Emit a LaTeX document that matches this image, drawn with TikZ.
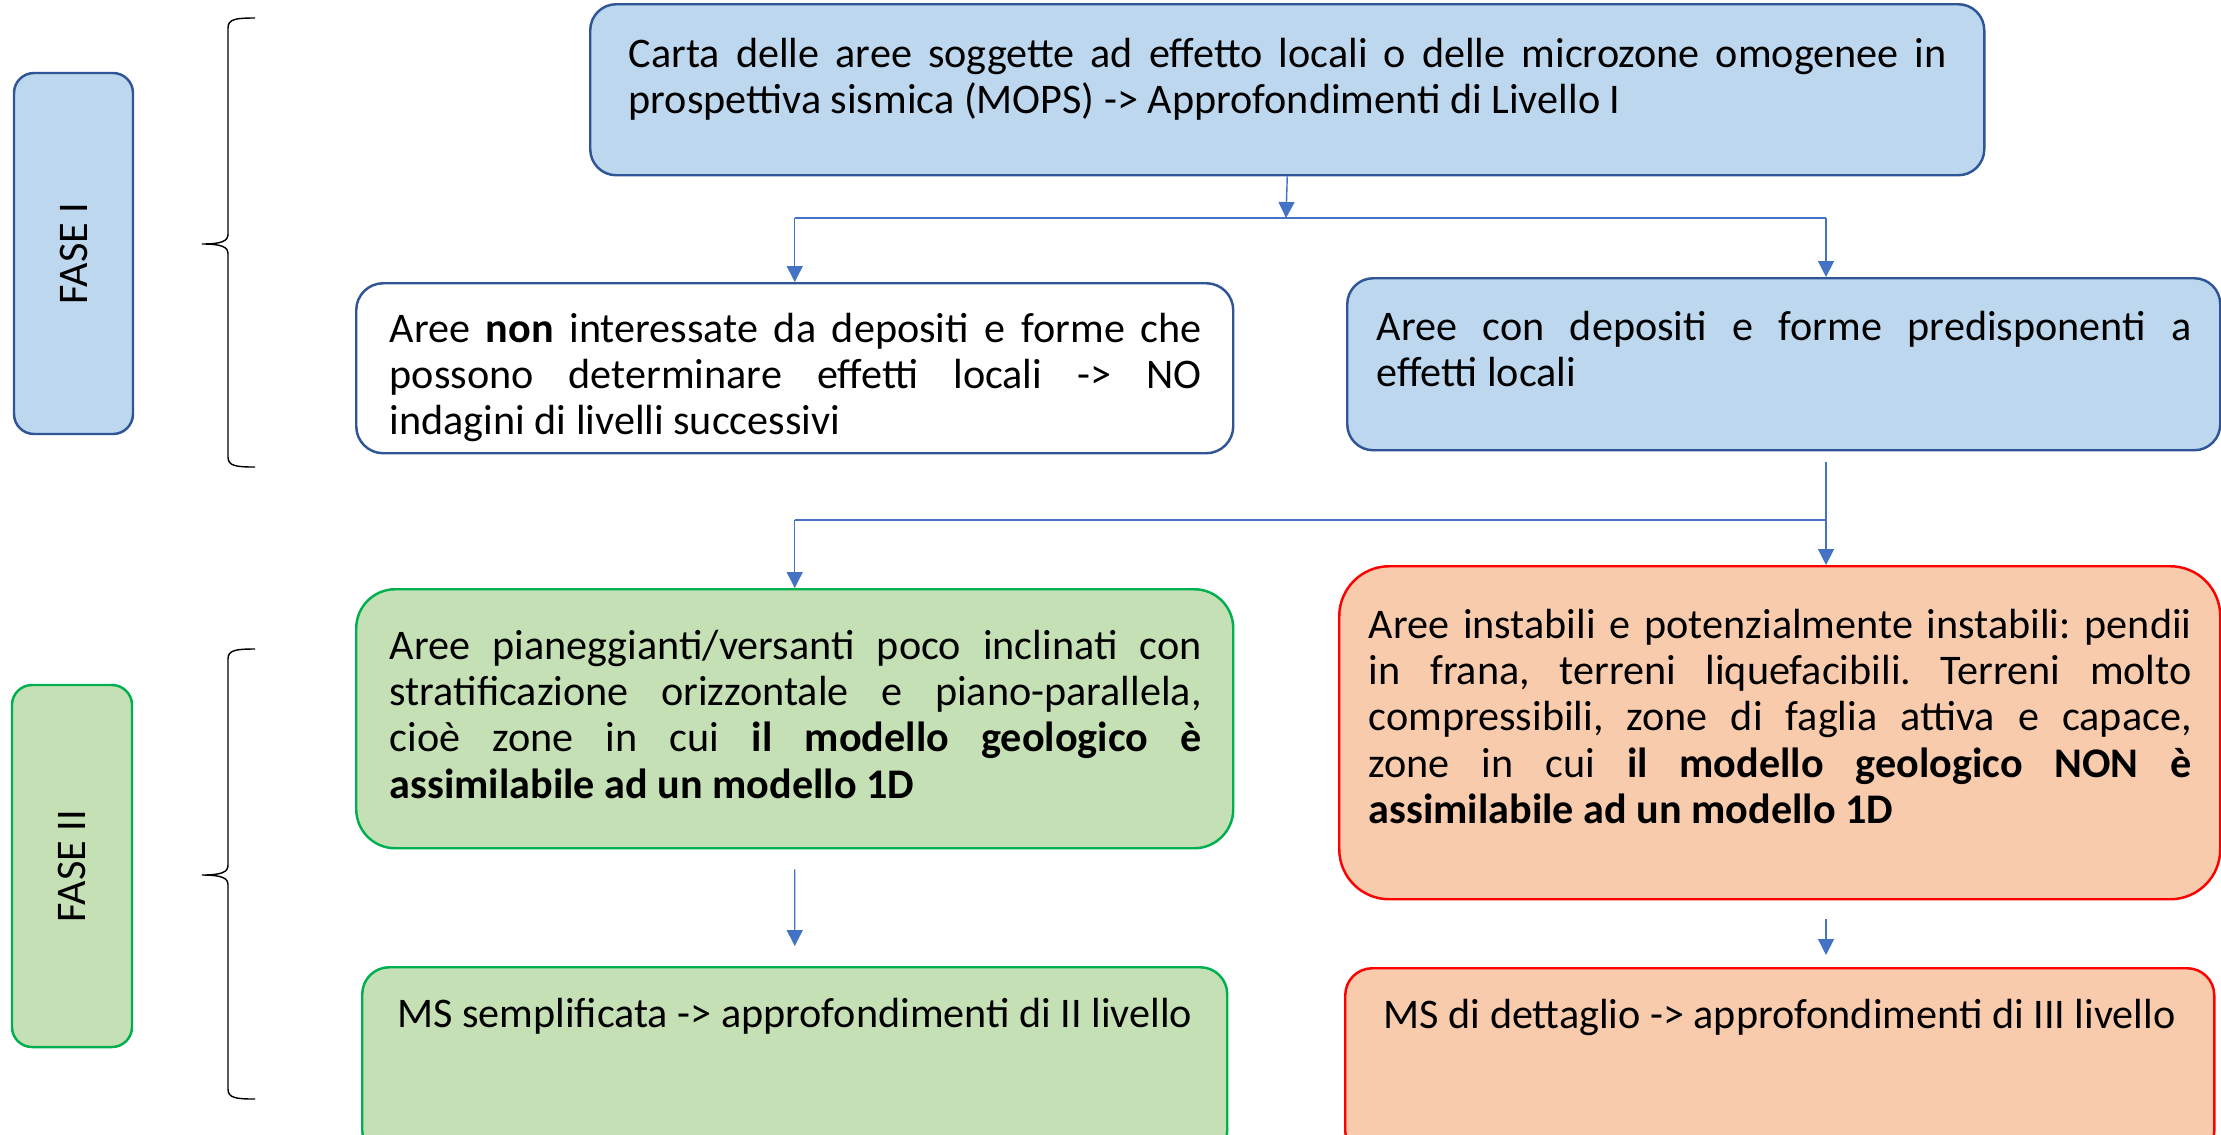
\documentclass[tikz,border=0pt]{standalone}
\usepackage{fontspec}
\setmainfont{Carlito}
\usepackage{tikz}
\usetikzlibrary{positioning,arrows.meta}

\definecolor{boxblue}{HTML}{BDD7EE}
\definecolor{edgeblue}{HTML}{2F5597}
\definecolor{linkblue}{HTML}{4472C4}
\definecolor{boxgreen}{HTML}{C5E0B4}
\definecolor{edgegreen}{HTML}{00B050}
\definecolor{boxred}{HTML}{F8CBAD}
\definecolor{edgered}{HTML}{FF0000}

\hyphenpenalty=10000
\exhyphenpenalty=10000
\frenchspacing

\tikzset{
	box/.style={draw, line width=0.7pt, anchor=north west, inner sep=0pt},
	bluebox/.style={box, draw=edgeblue, fill=boxblue},
	whitebox/.style={box, draw=edgeblue, fill=white},
	greenbox/.style={box, draw=edgegreen, fill=boxgreen},
	redbox/.style={box, draw=edgered, fill=boxred},
	txt/.style={inner sep=0pt, anchor=base west, align=justify, font=\fontsize{12}{13.2}\selectfont},
	fase/.style={anchor=center, rotate=90, font=\fontsize{12}{14}\selectfont, rounded corners=0.2cm},
	link/.style={draw=linkblue, line width=0.4pt},
	flow/.style={link, -{Triangle[length=0.16cm, width=0.16cm]}},
	curly/.style={line width=0.4pt},
}

\begin{document}
\begin{tikzpicture}

	\useasboundingbox (0,0) rectangle (22.21,-11.34);

	% Phases
	\node[bluebox, fase, minimum width=3.61cm, minimum height=1.19cm] (fase1) at (0.735,-2.535) {FASE I};
	\node[greenbox, fase, minimum width=3.62cm, minimum height=1.20cm] (fase2) at (0.72,-8.66) {FASE II};

	% Braces
	\draw[curly] (2.55,-0.18) .. controls (2.36,-0.18) and (2.28,-0.19) .. (2.28,-0.28)
		-- (2.28,-2.34) .. controls (2.28,-2.41) and (2.22,-2.44) .. (2.02,-2.44)
		.. controls (2.22,-2.44) and (2.28,-2.47) .. (2.28,-2.54)
		-- (2.28,-4.57) .. controls (2.28,-4.66) and (2.36,-4.67) .. (2.55,-4.67);
	\draw[curly] (2.55,-6.49) .. controls (2.36,-6.49) and (2.28,-6.50) .. (2.28,-6.59)
		-- (2.28,-8.65) .. controls (2.28,-8.72) and (2.22,-8.75) .. (2.02,-8.75)
		.. controls (2.22,-8.75) and (2.28,-8.78) .. (2.28,-8.85)
		-- (2.28,-10.89) .. controls (2.28,-10.98) and (2.36,-10.99) .. (2.55,-10.99);

	% Level I
	\node[bluebox, minimum width=13.94cm, minimum height=1.71cm, rounded corners=0.26cm] (carta) at (5.89,-0.03) {};
	\node[txt, text width=13.18cm] (cartaT) at ([xshift=0.39cm, yshift=-0.64cm]carta.north west)
		{Carta delle aree soggette ad effetto locali o delle microzone omogenee in\linebreak prospettiva sismica (MOPS) -> Approfondimenti di Livello I};

	\node[whitebox, minimum width=8.77cm, minimum height=1.70cm, rounded corners=0.27cm] (nonint) at (3.55,-2.82) {};
	\node[txt, text width=8.12cm] (nonintT) at ([xshift=0.34cm, yshift=-0.60cm]nonint.north west)
		{Aree \textbf{non} interessate da depositi e forme che\linebreak possono determinare effetti locali -> NO\linebreak indagini di livelli successivi};

	\node[bluebox, minimum width=8.73cm, minimum height=1.72cm, rounded corners=0.26cm] (predisp) at (13.46,-2.77) {};
	\node[txt, text width=8.15cm] (predispT) at ([xshift=0.30cm, yshift=-0.63cm]predisp.north west)
		{Aree con depositi e forme predisponenti a\linebreak effetti locali};

	% Level II
	\node[greenbox, minimum width=8.77cm, minimum height=2.59cm, rounded corners=0.39cm] (piano) at (3.55,-5.88) {};
	\node[txt, text width=8.12cm] (pianoT) at ([xshift=0.34cm, yshift=-0.71cm]piano.north west)
		{Aree pianeggianti/versanti poco inclinati con\linebreak stratificazione orizzontale e piano-parallela,\linebreak cioè zone in cui \textbf{il modello geologico è\linebreak assimilabile ad un modello 1D}};

	\node[redbox, minimum width=8.81cm, minimum height=3.33cm, rounded corners=0.5cm] (instab) at (13.38,-5.65) {};
	\node[txt, text width=8.23cm] (instabT) at ([xshift=0.30cm, yshift=-0.73cm]instab.north west)
		{Aree instabili e potenzialmente instabili: pendii\linebreak in frana, terreni liquefacibili. Terreni molto\linebreak compressibili, zone di faglia attiva e capace,\linebreak zone in cui \textbf{il modello geologico NON è\linebreak assimilabile ad un modello 1D}};

	\node[greenbox, minimum width=8.65cm, minimum height=1.90cm, rounded corners=0.27cm] (semp) at (3.61,-9.66) {};
	\node[txt, anchor=base] (sempT) at ([yshift=-0.61cm]semp.north)
		{MS semplificata -> approfondimenti di II livello};

	\node[redbox, minimum width=8.69cm, minimum height=1.90cm, rounded corners=0.27cm] (dett) at (13.44,-9.67) {};
	\node[txt, anchor=base] (dettT) at ([yshift=-0.61cm]dett.north)
		{MS di dettaglio -> approfondimenti di III livello};

	% Connectors
	\coordinate (split1) at (12.86,-2.18);
	\coordinate (split1L) at (nonint.north |- split1);
	\coordinate (split1R) at (18.26,-2.18);
	\draw[flow] (carta.south) -- (split1);
	\draw[link] (split1L) -- (split1R);
	\draw[flow] (split1L) -- (nonint.north);
	\draw[flow] (split1R) -- (split1R |- predisp.north);

	\coordinate (split2T) at (18.26,-4.62);
	\coordinate (split2R) at (18.26,-5.20);
	\coordinate (split2L) at (piano.north |- split2R);
	\draw[link] (split2T) -- (split2R);
	\draw[link] (split2L) -- (split2R);
	\draw[flow] (split2L) -- (piano.north);
	\draw[flow] (split2R) -- (split2R |- instab.north);

	\draw[flow, shorten <=0.2cm, shorten >=0.2cm] (piano.south) -- (semp.north);
	\draw[flow, shorten <=0.19cm, shorten >=0.12cm] (instab.south -| split2R) -- (split2R |- dett.north);
\end{tikzpicture}
\end{document}
